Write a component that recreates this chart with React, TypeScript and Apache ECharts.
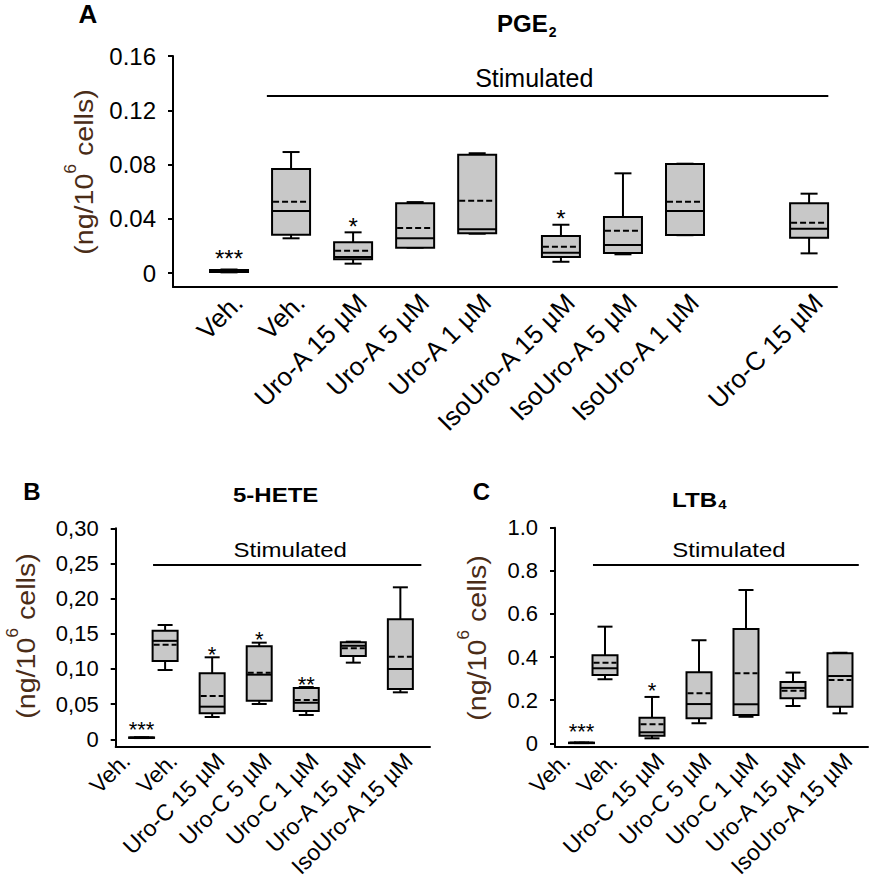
import React, { useEffect, useRef } from "react";
import * as echarts from "echarts";

const FONT = 'Arial, "Liberation Sans", Helvetica, sans-serif';
const Y_TITLE_COLOR = "#4a2c17";
const BOX_FILL = "#c8c8c8";

// ---------- Panel A : PGE2 ----------
const labelsA = ["Veh.", "Veh.", "Uro-A 15 µM", "Uro-A 5 µM", "Uro-A 1 µM", "IsoUro-A 15 µM", "IsoUro-A 5 µM", "IsoUro-A 1 µM", "Uro-C 15 µM"];
const posA = [1, 2, 3, 4, 5, 6.35, 7.35, 8.35, 10.35];
const minA = [0.0005, 0.0256, 0.0069, 0.0187, 0.029, 0.0083, 0.0138, 0.0279, 0.0145];
const q1A = [0.0008, 0.0282, 0.0101, 0.0187, 0.0293, 0.0118, 0.0147, 0.028, 0.026];
const medA = [0.0015, 0.0457, 0.0118, 0.0256, 0.0322, 0.015, 0.0206, 0.0457, 0.0327];
const q3A = [0.0022, 0.0767, 0.0226, 0.0514, 0.0872, 0.0273, 0.0413, 0.0804, 0.0514];
const maxA = [0.0026, 0.0892, 0.03, 0.0523, 0.0883, 0.0356, 0.0735, 0.0806, 0.0585];
const meanA = [0.0015, 0.0526, 0.0165, 0.0332, 0.0533, 0.0194, 0.0312, 0.0526, 0.0371];
const sigA = ["***", "", "*", "", "", "*", "", "", ""];
const ticksA = [0, 0.04, 0.08, 0.12, 0.16];
const stimA = [1.61, 10.66, 0.1306, 5.92]; // from, to, level, text position

// ---------- Panel B : 5-HETE ----------
const labelsB = ["Veh.", "Veh.", "Uro-C 15 µM", "Uro-C 5 µM", "Uro-C 1 µM", "Uro-A 15 µM", "IsoUro-A 15 µM"];
const labelPosB = [0, 1, 2, 3, 4, 5, 6];
const posB = [0.5, 1, 2, 3, 4, 5, 6];
const minB = [0.0018, 0.0985, 0.0317, 0.0502, 0.0346, 0.109, 0.0668];
const q1B = [0.002, 0.1113, 0.037, 0.0549, 0.0402, 0.1184, 0.0715];
const medB = [0.0023, 0.14, 0.0464, 0.0919, 0.052, 0.133, 0.1];
const q3B = [0.0027, 0.1545, 0.0938, 0.1322, 0.0729, 0.1379, 0.1706];
const maxB = [0.003, 0.1625, 0.1166, 0.1374, 0.0743, 0.1388, 0.2161];
const meanB = [0.0023, 0.1345, 0.0616, 0.0947, 0.0559, 0.1294, 0.1175];
const sigB = ["***", "", "*", "*", "**", "", ""];
const ticksB = [0, 0.05, 0.1, 0.15, 0.2, 0.25, 0.3];
const stimB = [0.744, 6.446, 0.2478, 3.66];

// ---------- Panel C : LTB4 ----------
const labelsC = ["Veh.", "Veh.", "Uro-C 15 µM", "Uro-C 5 µM", "Uro-C 1 µM", "Uro-A 15 µM", "IsoUro-A 15 µM"];
const labelPosC = [0, 1, 2, 3, 4, 5, 6];
const posC = [0.5, 1, 2, 3, 4, 5, 6];
const minC = [0.001, 0.297, 0.023, 0.093, 0.123, 0.173, 0.139];
const q1C = [0.0015, 0.317, 0.035, 0.116, 0.131, 0.209, 0.17];
const medC = [0.002, 0.348, 0.051, 0.182, 0.181, 0.257, 0.312];
const q3C = [0.003, 0.408, 0.119, 0.329, 0.53, 0.284, 0.418];
const maxC = [0.004, 0.541, 0.215, 0.478, 0.711, 0.328, 0.42];
const meanC = [0.002, 0.374, 0.088, 0.232, 0.325, 0.244, 0.294];
const sigC = ["***", "", "*", "", "", "", ""];
const ticksC = [0, 0.2, 0.4, 0.6, 0.8, 1.0];
const stimC = [0.744, 6.4, 0.827, 3.638];

function textWidth(s: string, size: number, weight = "normal") {
  const ctx = document.createElement("canvas").getContext("2d")!;
  ctx.font = `${weight} ${size}px ${FONT}`;
  return ctx.measureText(s).width;
}

function boxData(pos: number[], mn: number[], q1: number[], md: number[], q3: number[], mx: number[], mean: number[]) {
  return pos.map((p, i) => [p, mn[i], q1[i], md[i], q3[i], mx[i], mean[i]]);
}

function boxSeries(idx: number, data: number[][], sigs: string[], boxW: number, capW: number, starSize: number, starOff: number) {
  return {
    type: "custom",
    xAxisIndex: idx,
    yAxisIndex: idx,
    clip: false,
    data,
    renderItem: (params: any, api: any) => {
      const x = api.value(0);
      const c = (v: number) => api.coord([x, v]);
      const pMin = c(api.value(1));
      const pQ1 = c(api.value(2));
      const pMed = c(api.value(3));
      const pQ3 = c(api.value(4));
      const pMax = c(api.value(5));
      const pMean = c(api.value(6));
      const cx = pMed[0];
      const hw = boxW / 2;
      const hc = capW / 2;
      const ls = { stroke: "#000", lineWidth: 2 };
      const children: any[] = [
        { type: "line", shape: { x1: cx, y1: pMax[1], x2: cx, y2: pQ3[1] }, style: ls },
        { type: "line", shape: { x1: cx, y1: pQ1[1], x2: cx, y2: pMin[1] }, style: ls },
        { type: "line", shape: { x1: cx - hc, y1: pMax[1], x2: cx + hc, y2: pMax[1] }, style: ls },
        { type: "line", shape: { x1: cx - hc, y1: pMin[1], x2: cx + hc, y2: pMin[1] }, style: ls },
        {
          type: "rect",
          shape: { x: cx - hw, y: pQ3[1], width: boxW, height: Math.max(pQ1[1] - pQ3[1], 0.5) },
          style: { fill: BOX_FILL, stroke: "#000", lineWidth: 2 },
        },
        { type: "line", shape: { x1: cx - hw, y1: pMed[1], x2: cx + hw, y2: pMed[1] }, style: ls },
        {
          type: "line",
          shape: { x1: cx - hw + 1, y1: pMean[1], x2: cx + hw - 1, y2: pMean[1] },
          style: { stroke: "#000", lineWidth: 2, lineDash: [6, 3] },
        },
      ];
      const sig = sigs[params.dataIndex];
      if (sig) {
        const extra = sig.length === 3 ? 5 : 0;
        children.push({
          type: "text",
          x: cx,
          y: pMax[1] - starOff - extra,
          style: { text: sig, fontSize: starSize, fontFamily: FONT, fill: "#000", align: "center", verticalAlign: "middle" },
        });
      }
      return { type: "group", children };
    },
  };
}

function stimSeries(idx: number, stim: number[], size: number, scaleX: number, textGap: number) {
  return {
    type: "custom",
    xAxisIndex: idx,
    yAxisIndex: idx,
    clip: false,
    data: [stim],
    renderItem: (_params: any, api: any) => {
      const p1 = api.coord([api.value(0), api.value(2)]);
      const p2 = api.coord([api.value(1), api.value(2)]);
      const pt = api.coord([api.value(3), api.value(2)]);
      return {
        type: "group",
        children: [
          { type: "line", shape: { x1: p1[0], y1: p1[1], x2: p2[0], y2: p2[1] }, style: { stroke: "#000", lineWidth: 2 } },
          {
            type: "text",
            x: pt[0],
            y: p1[1] - textGap,
            scaleX,
            style: { text: "Stimulated", fontSize: size, fontFamily: FONT, fill: "#000", align: "center", verticalAlign: "middle" },
          },
        ],
      };
    },
  };
}

function nearestLabel(labels: string[], positions: number[]) {
  return (v: number) => {
    let best = 0;
    positions.forEach((p, i) => {
      if (Math.abs(p - v) < Math.abs(positions[best] - v)) best = i;
    });
    return labels[best];
  };
}

function xAxis(idx: number, min: number, max: number, labels: string[], positions: number[], size: number, margin: number) {
  return {
    type: "value",
    gridIndex: idx,
    min,
    max,
    axisLine: { show: true, onZero: false, lineStyle: { color: "#000", width: 2 } },
    axisTick: { show: false },
    splitLine: { show: false },
    axisLabel: {
      customValues: positions,
      formatter: nearestLabel(labels, positions),
      rotate: 45,
      fontSize: size,
      fontFamily: FONT,
      color: "#000",
      margin,
      align: "right",
      verticalAlign: "top",
    },
  };
}

function yAxis(idx: number, min: number, max: number, ticks: number[], fmt: (v: number) => string, size: number) {
  return {
    type: "value",
    gridIndex: idx,
    min,
    max,
    axisLine: { show: true, onZero: false, lineStyle: { color: "#000", width: 2 } },
    axisTick: { show: true, customValues: ticks, length: 5, lineStyle: { color: "#000", width: 2 } },
    splitLine: { show: false },
    axisLabel: { customValues: ticks, formatter: fmt, fontSize: size, fontFamily: FONT, color: "#000", margin: 17 },
  };
}

function yTitle(cx: number, cy: number, size: number, scaleX: number) {
  const supSize = Math.round(size * 0.62);
  const w1 = textWidth("(ng/10", size);
  const w2 = textWidth("6", supSize);
  const ws = textWidth(" ", size);
  const w3 = textWidth("cells)", size);
  const W = w1 + w2 + ws + w3;
  const st = { fontFamily: FONT, fill: Y_TITLE_COLOR, align: "left", verticalAlign: "middle" };
  return {
    type: "group",
    x: cx,
    y: cy,
    rotation: Math.PI / 2,
    scaleX,
    children: [
      { type: "text", x: -W / 2, y: 0, style: { ...st, text: "(ng/10", fontSize: size } },
      { type: "text", x: -W / 2 + w1, y: -size * 0.5, style: { ...st, text: "6", fontSize: supSize } },
      { type: "text", x: -W / 2 + w1 + w2 + ws, y: 0, style: { ...st, text: "cells)", fontSize: size } },
    ],
  };
}

function title(left: number, midY: number, main: string, sub: string, size: number, subSize: number, subDy: number, scaleX: number) {
  const w1 = textWidth(main, size, "bold");
  const st = { fontFamily: FONT, fill: "#000", align: "left", verticalAlign: "middle", fontWeight: "bold" };
  const children: any[] = [{ type: "text", x: 0, y: 0, style: { ...st, text: main, fontSize: size } }];
  if (sub) children.push({ type: "text", x: w1 + 1, y: subDy, style: { ...st, text: sub, fontSize: subSize } });
  return { type: "group", x: left, y: midY, scaleX, children };
}

function letter(cx: number, cy: number, s: string, size: number) {
  return {
    type: "text",
    x: cx,
    y: cy,
    style: { text: s, fontSize: size, fontWeight: "bold", fontFamily: FONT, fill: "#000", align: "center", verticalAlign: "middle" },
  };
}

const fmtA = (v: number) => (Math.abs(v) < 1e-9 ? "0" : v.toFixed(2));
const fmtB = (v: number) => (Math.abs(v) < 1e-9 ? "0" : v.toFixed(2).replace(".", ","));
const fmtC = (v: number) => (Math.abs(v) < 1e-9 ? "0" : v.toFixed(1));

export default function App() {
  const ref = useRef<HTMLDivElement>(null);
  useEffect(() => {
    if (!ref.current) return;
    const chart = echarts.init(ref.current, null, { renderer: "svg" });
    const option: any = {
      animation: false,
      backgroundColor: "#fff",
      grid: [
        { left: 173, top: 56, width: 664, height: 231, outerBoundsMode: "none" },
        { left: 115.7, top: 528.3, width: 314.3, height: 218.4, outerBoundsMode: "none" },
        { left: 555, top: 527.7, width: 313, height: 219, outerBoundsMode: "none" },
      ],
      xAxis: [
        xAxis(0, 0.097, 10.8, labelsA, posA, 26, 2),
        xAxis(1, -0.05, 6.63, labelsB, labelPosB, 23, 2),
        xAxis(2, -0.064, 6.596, labelsC, labelPosC, 23, 2),
      ],
      yAxis: [
        yAxis(0, -0.0103, 0.16, ticksA, fmtA, 24),
        yAxis(1, -0.0105, 0.3, ticksB, fmtB, 22),
        yAxis(2, -0.0158, 1.0, ticksC, fmtC, 22),
      ],
      series: [
        boxSeries(0, boxData(posA, minA, q1A, medA, q3A, maxA, meanA), sigA, 38, 17, 24, 6),
        boxSeries(1, boxData(posB, minB, q1B, medB, q3B, maxB, meanB), sigB, 25, 15, 22, 3),
        boxSeries(2, boxData(posC, minC, q1C, medC, q3C, maxC, meanC), sigC, 25, 15, 22, 6),
        stimSeries(0, stimA, 25, 1, 18),
        stimSeries(1, stimB, 20, 1.2, 15),
        stimSeries(2, stimC, 20, 1.2, 15),
      ],
      graphic: [
        letter(88, 14, "A", 26),
        letter(32, 491.5, "B", 24),
        letter(481.5, 491.5, "C", 24),
        title(497, 23.5, "PGE", "2", 24, 14, 8, 1),
        title(233, 495, "5-HETE", "", 20, 13, 0, 1.2),
        title(672, 500.5, "LTB", "4", 21, 13, 4, 1.15),
        yTitle(84, 172, 26, 1.1),
        yTitle(26, 636, 26, 1.1),
        yTitle(477, 638, 26, 1.1),
      ],
    };
    chart.setOption(option);
    return () => chart.dispose();
  }, []);
  return (
    <div
      ref={ref}
      style={{ position: "fixed", left: 0, top: 0, width: 871, height: 885, background: "#fff" }}
    />
  );
}
